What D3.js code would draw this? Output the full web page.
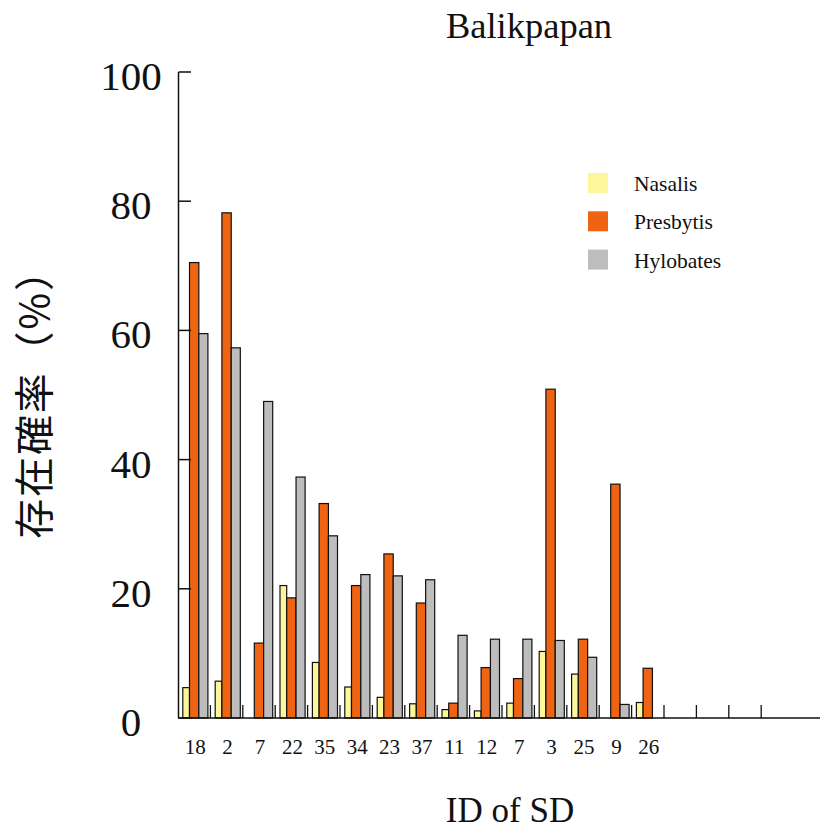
<!DOCTYPE html>
<html>
<head>
<meta charset="utf-8">
<script src="https://cdn.jsdelivr.net/npm/d3@7"></script>
<style>
  html, body { margin: 0; padding: 0; background: #fff; }
  svg { display: block; }
</style>
</head>
<body>
<svg id="chart" width="820" height="830"></svg>
<script>
// Survey sites (ID of SD) in plot order
const sites = ["18", "2", "7", "22", "35", "34", "23", "37", "11", "12", "7", "3", "25", "9", "26"];
// Presence probability (%) per genus
const seriesNames = ["Nasalis", "Presbytis", "Hylobates"];
const nasalis   = [4.7, 5.7, 0,    20.5, 8.6,  4.8,  3.2,  2.2,  1.3, 1.1,  2.3,  10.3, 6.8,  0,    2.4];
const presbytis = [70.5, 78.2, 11.6, 18.6, 33.2, 20.5, 25.4, 17.8, 2.3, 7.8,  6.1,  50.9, 12.2, 36.2, 7.7];
const hylobates = [59.5, 57.3, 49.0, 37.3, 28.2, 22.2, 22.0, 21.4, 12.8, 12.2, 12.2, 12.0, 9.4,  2.1,  0];
const yTicks = [0, 20, 40, 60, 80, 100];

const seriesValues = [nasalis, presbytis, hylobates];
const colors = ["#fdf69a", "#ef6412", "#bdbdbd"];
// offset / width of each bar inside a site slot, as fraction of the slot
const barLayout = [[0.148, 0.207], [0.355, 0.288], [0.643, 0.28]];

const svg = d3.select("#chart");
const font = "'Liberation Serif', 'Times New Roman', serif";

// 20 slots along the axis; the first 15 carry sites
const nSlots = 20;
const slotIds = d3.range(nSlots);
const x = d3.scaleBand().domain(slotIds).range([178, 826]).padding(0);
const y = d3.scaleLinear().domain([0, 100]).range([718, 72]);
const slot = x.bandwidth();

// Bars
const g = svg.append("g");
seriesValues.forEach((vals, s) => {
  g.selectAll(null)
    .data(vals.map((v, i) => ({ v, i })).filter(d => d.v > 0))
    .enter().append("rect")
    .attr("x", d => x(d.i) + barLayout[s][0] * slot)
    .attr("width", barLayout[s][1] * slot)
    .attr("y", d => y(d.v))
    .attr("height", d => y(0) - y(d.v))
    .attr("fill", colors[s])
    .attr("stroke", "#111")
    .attr("stroke-width", 1.2);
});

// Y axis
svg.append("line")
  .attr("x1", 178.5).attr("x2", 178.5)
  .attr("y1", y(100)).attr("y2", y(0))
  .attr("stroke", "#111").attr("stroke-width", 1.5);
svg.selectAll(null).data(yTicks).enter().append("line")
  .attr("x1", 178.5).attr("x2", 191)
  .attr("y1", d => y(d)).attr("y2", d => y(d))
  .attr("stroke", "#111").attr("stroke-width", 1.5);
svg.selectAll(null).data(yTicks).enter().append("text")
  .attr("x", 131).attr("y", d => y(d) + 18)
  .attr("text-anchor", "middle")
  .attr("font-family", font).attr("font-size", 41)
  .attr("fill", "#111")
  .text(d => d);

// X axis
svg.append("line")
  .attr("x1", 178).attr("x2", 820)
  .attr("y1", y(0)).attr("y2", y(0))
  .attr("stroke", "#111").attr("stroke-width", 1.5);
svg.selectAll(null).data(d3.range(1, 19)).enter().append("line")
  .attr("x1", d => x(d)).attr("x2", d => x(d))
  .attr("y1", y(0)).attr("y2", y(0) - 13)
  .attr("stroke", "#111").attr("stroke-width", 1.3);
svg.selectAll(null).data(sites).enter().append("text")
  .attr("x", (d, i) => x(i) + slot / 2 + 1)
  .attr("y", 754)
  .attr("text-anchor", "middle")
  .attr("font-family", font).attr("font-size", 21)
  .attr("fill", "#111")
  .text(d => d);

// Titles
svg.append("text")
  .attr("x", 529).attr("y", 38)
  .attr("text-anchor", "middle")
  .attr("font-family", font).attr("font-size", 36.5)
  .attr("fill", "#111")
  .text("Balikpapan");
svg.append("text")
  .attr("x", 510).attr("y", 822)
  .attr("text-anchor", "middle")
  .attr("font-family", font).attr("font-size", 35)
  .attr("fill", "#111")
  .text("ID of SD");
svg.append("text")
  .attr("transform", "translate(49,394) rotate(-90)")
  .attr("text-anchor", "middle")
  .attr("font-family", "'Noto Sans CJK JP', sans-serif").attr("font-size", 40)
  .attr("letter-spacing", 1.8)
  .attr("fill", "#111")
  .text("存在確率（%）");

// Legend
const legend = svg.append("g");
seriesNames.forEach((name, s) => {
  const ly = 173 + s * 38.3;
  legend.append("rect")
    .attr("x", 588).attr("y", ly).attr("width", 20).attr("height", 20)
    .attr("fill", colors[s]);
  legend.append("text")
    .attr("x", 634).attr("y", ly + 18)
    .attr("font-family", font).attr("font-size", 21.5)
    .attr("fill", "#111")
    .text(name);
});
</script>
</body>
</html>
